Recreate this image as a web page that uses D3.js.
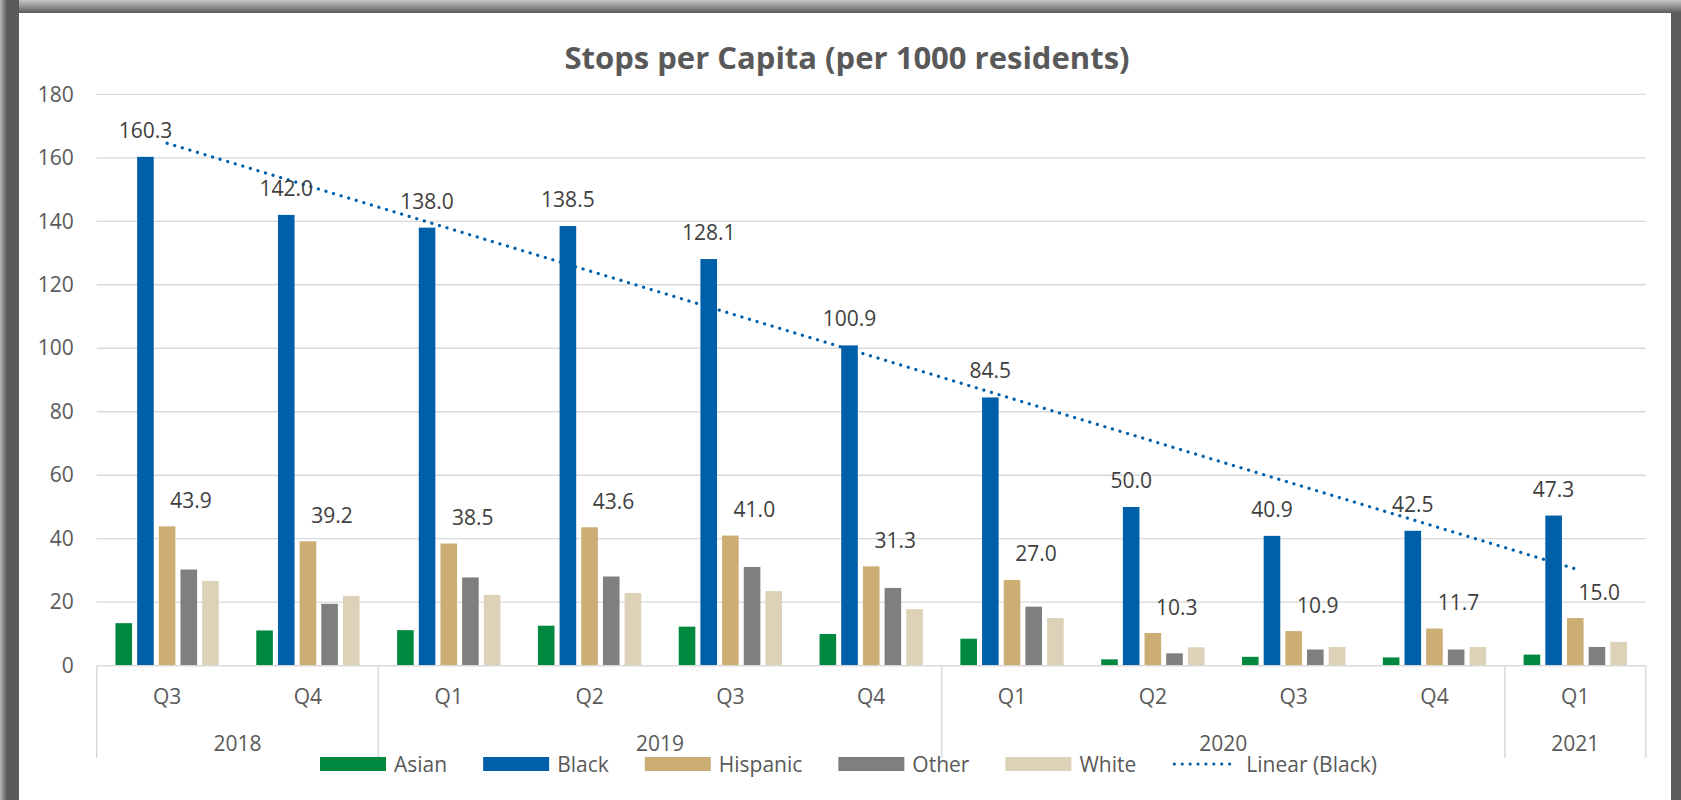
<!DOCTYPE html>
<html>
<head>
<meta charset="utf-8">
<script src="https://cdn.jsdelivr.net/npm/d3@7"></script>
<style>
  body { margin: 0; background: #ffffff; }
  text { font-family: "Open Sans", "Liberation Sans", sans-serif; }
</style>
</head>
<body>
<svg id="chart" width="1681" height="800"></svg>
<script>
// data
var quarters = ["Q3", "Q4", "Q1", "Q2", "Q3", "Q4", "Q1", "Q2", "Q3", "Q4", "Q1"];
var years = ["2018", "2018", "2019", "2019", "2019", "2019", "2020", "2020", "2020", "2020", "2021"];
var yearList = ["2018", "2019", "2020", "2021"];
var seriesNames = ["Asian", "Black", "Hispanic", "Other", "White"];
var asian = [13.4, 11.1, 11.2, 12.6, 12.3, 10.0, 8.5, 2.0, 2.8, 2.6, 3.5];
var black = [160.3, 142.0, 138.0, 138.5, 128.1, 100.9, 84.5, 50.0, 40.9, 42.5, 47.3];
var hispanic = [43.9, 39.2, 38.5, 43.6, 41.0, 31.3, 27.0, 10.3, 10.9, 11.7, 15.0];
var other = [30.3, 19.5, 27.8, 28.1, 31.1, 24.5, 18.6, 3.9, 5.1, 5.1, 5.9];
var white = [26.7, 22.0, 22.3, 22.9, 23.5, 17.8, 15.0, 5.8, 5.9, 5.9, 7.5];
var yTicks = [0, 20, 40, 60, 80, 100, 120, 140, 160, 180];

var colors = ["#00893e", "#005fa9", "#ccae74", "#7f7f7f", "#ddd1b7"];
var allSeries = [asian, black, hispanic, other, white];

var svg = d3.select("#chart");

// frame around the chart
var defs = svg.append("defs");
var g1 = defs.append("linearGradient").attr("id", "topShade").attr("x1", 0).attr("y1", 0).attr("x2", 0).attr("y2", 1);
g1.append("stop").attr("offset", "0%").attr("stop-color", "#c8c8c8");
g1.append("stop").attr("offset", "100%").attr("stop-color", "#5a5a5a");
var g2 = defs.append("linearGradient").attr("id", "leftShade").attr("x1", 0).attr("y1", 0).attr("x2", 1).attr("y2", 0);
g2.append("stop").attr("offset", "0%").attr("stop-color", "#b8b8b8");
g2.append("stop").attr("offset", "35%").attr("stop-color", "#5c5c5c");
g2.append("stop").attr("offset", "100%").attr("stop-color", "#5a5a5a");

svg.append("rect").attr("x", 0).attr("y", 0).attr("width", 1681).attr("height", 800).attr("fill", "#5c5c5c");
svg.append("rect").attr("x", 0).attr("y", 0).attr("width", 1681).attr("height", 13).attr("fill", "url(#topShade)");
svg.append("rect").attr("x", 0).attr("y", 0).attr("width", 19).attr("height", 800).attr("fill", "url(#leftShade)");
svg.append("rect").attr("x", 19).attr("y", 13).attr("width", 1652).attr("height", 800).attr("fill", "#ffffff");

var plotLeft = 96.7, plotRight = 1645.7, plotTop = 94.3, plotBottom = 665.7;

var y = d3.scaleLinear().domain([0, 180]).range([plotBottom, plotTop]);
var x0 = d3.scaleBand().domain(d3.range(quarters.length)).range([plotLeft, plotRight]);
var groupW = 103.3;
var x1 = d3.scaleBand().domain(seriesNames).range([0, groupW]).paddingInner(0.234);
var groupPad = (x0.bandwidth() - groupW) / 2;

// title
svg.append("text")
  .attr("x", 847).attr("y", 68.5)
  .attr("text-anchor", "middle")
  .attr("font-size", 31).attr("font-weight", "bold")
  .attr("fill", "#595959")
  .text("Stops per Capita (per 1000 residents)");

// gridlines
svg.append("g").selectAll("line").data(yTicks.slice(1)).enter().append("line")
  .attr("x1", plotLeft).attr("x2", plotRight)
  .attr("y1", function(d){ return y(d); })
  .attr("y2", function(d){ return y(d); })
  .attr("stroke", "#d9d9d9").attr("stroke-width", 1.3);

// y axis labels
var yAxis = svg.append("g").attr("transform", "translate(" + (plotLeft - 17) + ",0)")
  .call(d3.axisLeft(y).tickValues(yTicks).tickSize(0).tickPadding(6));
yAxis.select(".domain").remove();
yAxis.selectAll("text").attr("font-size", 21).attr("fill", "#595959")
  .attr("font-family", "'Open Sans', sans-serif");

// bars
seriesNames.forEach(function(name, si){
  svg.append("g").selectAll("rect").data(allSeries[si]).enter().append("rect")
    .attr("x", function(d, i){ return x0(i) + groupPad + x1(name); })
    .attr("width", x1.bandwidth())
    .attr("y", function(d){ return y(d); })
    .attr("height", function(d){ return plotBottom - y(d); })
    .attr("fill", colors[si]);
});

// x axis line and category separators
svg.append("line").attr("x1", plotLeft).attr("x2", plotRight).attr("y1", plotBottom).attr("y2", plotBottom)
  .attr("stroke", "#d9d9d9").attr("stroke-width", 1.5);
var sepIdx = [0];
for (var i = 1; i < years.length; i++) { if (years[i] !== years[i - 1]) sepIdx.push(i); }
svg.append("g").selectAll("line").data(sepIdx).enter().append("line")
  .attr("x1", function(d){ return x0(d); }).attr("x2", function(d){ return x0(d); })
  .attr("y1", plotBottom).attr("y2", 758)
  .attr("stroke", "#d9d9d9").attr("stroke-width", 1.5);
svg.append("line").attr("x1", plotRight).attr("x2", plotRight).attr("y1", plotBottom).attr("y2", 758)
  .attr("stroke", "#d9d9d9").attr("stroke-width", 1.5);

// quarter labels
svg.append("g").selectAll("text").data(quarters).enter().append("text")
  .attr("x", function(d, i){ return x0(i) + x0.bandwidth() / 2; })
  .attr("y", 704)
  .attr("text-anchor", "middle").attr("font-size", 21).attr("fill", "#595959")
  .text(function(d){ return d; });

// year labels
svg.append("g").selectAll("text").data(yearList).enter().append("text")
  .attr("x", function(d){
    var idx = d3.range(years.length).filter(function(i){ return years[i] === d; });
    return (x0(idx[0]) + x0(idx[idx.length - 1]) + x0.bandwidth()) / 2;
  })
  .attr("y", 751)
  .attr("text-anchor", "middle").attr("font-size", 21).attr("fill", "#595959")
  .text(function(d){ return d; });

// linear trend of Black (least squares)
var xs = d3.range(1, black.length + 1);
var mx = d3.mean(xs), my = d3.mean(black);
var slope = d3.sum(xs, function(v, i){ return (v - mx) * (black[i] - my); }) /
            d3.sum(xs, function(v){ return (v - mx) * (v - mx); });
var icpt = my - slope * mx;
var trend = xs.map(function(v, i){ return [i, icpt + slope * v]; });
svg.append("path")
  .datum(trend)
  .attr("d", d3.line()
    .x(function(d){ return x0(d[0]) + x0.bandwidth() / 2; })
    .y(function(d){ return y(d[1]); }))
  .attr("fill", "none").attr("stroke", "#005fa9").attr("stroke-width", 3.2)
  .attr("stroke-linecap", "round").attr("stroke-dasharray", "0.1 7.8");

// data labels for Black and Hispanic
svg.append("g").selectAll("text").data(black).enter().append("text")
  .attr("x", function(d, i){ return x0(i) + groupPad + x1("Black") + x1.bandwidth() / 2; })
  .attr("y", function(d){ return y(d) - 19; })
  .attr("text-anchor", "middle").attr("font-size", 21).attr("fill", "#404040")
  .text(function(d){ return d.toFixed(1); });
svg.append("g").selectAll("text").data(hispanic).enter().append("text")
  .attr("x", function(d, i){ return x0(i) + groupPad + x1("Hispanic") + x1.bandwidth() / 2 + 24; })
  .attr("y", function(d){ return y(d) - 18.5; })
  .attr("text-anchor", "middle").attr("font-size", 21).attr("fill", "#404040")
  .text(function(d){ return d.toFixed(1); });

// legend
var legendItems = seriesNames.concat(["Linear (Black)"]);
var lx = 320, ly = 764;
legendItems.forEach(function(name, i){
  if (i < 5) {
    svg.append("rect").attr("x", lx).attr("y", ly - 7).attr("width", 66).attr("height", 14)
      .attr("fill", colors[i]);
  } else {
    svg.append("line").attr("x1", lx + 2).attr("x2", lx + 64).attr("y1", ly).attr("y2", ly)
      .attr("stroke", "#005fa9").attr("stroke-width", 3.2)
      .attr("stroke-linecap", "round").attr("stroke-dasharray", "0.1 7.8");
  }
  var t = svg.append("text").attr("x", lx + 74).attr("y", ly + 7.5)
    .attr("font-size", 21).attr("fill", "#595959").text(name);
  lx = lx + 74 + t.node().getComputedTextLength() + 36;
});
</script>
</body>
</html>
